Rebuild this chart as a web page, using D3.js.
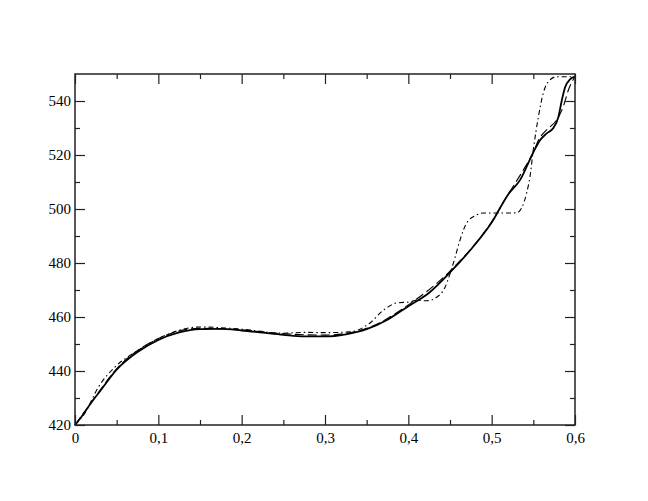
<!DOCTYPE html>
<html><head><meta charset="utf-8">
<script src="https://cdn.jsdelivr.net/npm/d3@7"></script>
<style>body{margin:0;background:#fff}svg{display:block}svg text{font-family:"Liberation Serif","DejaVu Serif",serif}</style>
</head><body>
<svg id="c" width="648" height="501"></svg>
<script>
const xTicks = [0, 0.1, 0.2, 0.3, 0.4, 0.5, 0.6];
const xTickLabels = ["0", "0,1", "0,2", "0,3", "0,4", "0,5", "0,6"];
const yTicks = [420, 440, 460, 480, 500, 520, 540];

const solidX = [0,0.01,0.02,0.03,0.05,0.075,0.1,0.125,0.15,0.175,0.2,0.225,0.25,0.275,0.3,0.325,0.35,0.375,0.4,0.425,0.45,0.475,0.5,0.52,0.534,0.55,0.558,0.566,0.574,0.58,0.584,0.588,0.594,0.6];
const solidY = [420,424,428.5,432.5,440.5,447,451.5,454.3,455.5,455.6,455.0,454.2,453.4,452.8,452.8,453.6,455.5,459,464,469,476.5,485,495,505.5,510.7,521,525.5,528,530,534,540,545,548,549];

const dashX = [0,0.02,0.05,0.1,0.15,0.2,0.25,0.3,0.35,0.4,0.45,0.5,0.52,0.54,0.55,0.557,0.565,0.57,0.578,0.586,0.592,0.598,0.6];
const dashY = [420,428.5,440.8,452,455.8,455.2,453.8,453.3,455.8,464.5,477,495.3,505.5,515.5,521,526,529,530.4,533,538,544,548,549];

const dotX = [0,0.012,0.028,0.048,0.075,0.1,0.15,0.2,0.25,0.275,0.3,0.33,0.354,0.37,0.386,0.402,0.41,0.422,0.434,0.444,0.45,0.456,0.462,0.47,0.482,0.49,0.51,0.53,0.536,0.542,0.546,0.55,0.556,0.562,0.57,0.578,0.6];
const dotY = [420,424.5,434,441.5,447.5,452,456.3,455.5,454,454.3,454.2,454.5,457.8,462.5,465.2,465.6,466.2,466,467.3,471,476,482,488.5,494.8,497.8,498.5,498.5,498.6,500.4,506,512,522,534,543,547.8,549,549];

const L = 75, R = 575, T = 74, B = 425;
const x = d3.scaleLinear().domain([0, 0.6]).range([L, R]);
const y = d3.scaleLinear().domain([420, 550]).range([B, T]);
const svg = d3.select("#c");

const line = d3.line().x(d => x(d[0])).y(d => y(d[1])).curve(d3.curveMonotoneX);
function draw(xs, ys, w, dash) {
  svg.append("path").datum(xs.map((v, i) => [v, ys[i]]))
    .attr("d", line).attr("fill", "none").attr("stroke", "#000")
    .attr("stroke-width", w).attr("stroke-dasharray", dash);
}
draw(dashX, dashY, 1.1, "9,4");
draw(dotX, dotY, 1.1, "5,3,1.5,3");
draw(solidX, solidY, 1.8, null);

const minorX = d3.range(0.05, 0.6, 0.1);
const minorY = d3.range(430, 550, 20);
function styleAxis(sel) {
  sel.select(".domain").remove();
  sel.selectAll("line").attr("stroke", "#222").attr("stroke-width", 1.2);
  sel.selectAll("text").style("font-family", '"Liberation Serif","DejaVu Serif",serif').attr("font-size", 15).attr("fill", "#000");
}
const xb = d3.axisBottom(x).tickValues(xTicks).tickSizeInner(-10).tickSizeOuter(0).tickFormat((d, i) => xTickLabels[i]).tickPadding(7);
const yl = d3.axisLeft(y).tickValues(yTicks).tickSizeInner(-10).tickSizeOuter(0).tickFormat(d3.format("d")).tickPadding(4);
svg.append("g").attr("transform", `translate(0,${B})`).call(xb).call(styleAxis);
svg.append("g").attr("transform", `translate(${L},0)`).call(yl).call(styleAxis);
svg.append("g").attr("transform", `translate(0,${B})`).call(d3.axisBottom(x).tickValues(minorX).tickSizeInner(-5).tickSizeOuter(0).tickFormat("")).call(styleAxis);
svg.append("g").attr("transform", `translate(${L},0)`).call(d3.axisLeft(y).tickValues(minorY).tickSizeInner(-5).tickSizeOuter(0).tickFormat("")).call(styleAxis);
svg.append("g").attr("transform", `translate(0,${T})`).call(d3.axisTop(x).tickValues(xTicks).tickSizeInner(-10).tickSizeOuter(0).tickFormat("")).call(styleAxis);
svg.append("g").attr("transform", `translate(0,${T})`).call(d3.axisTop(x).tickValues(minorX).tickSizeInner(-5).tickSizeOuter(0).tickFormat("")).call(styleAxis);
svg.append("g").attr("transform", `translate(${R},0)`).call(d3.axisRight(y).tickValues(yTicks).tickSizeInner(-10).tickSizeOuter(0).tickFormat("")).call(styleAxis);
svg.append("g").attr("transform", `translate(${R},0)`).call(d3.axisRight(y).tickValues(minorY).tickSizeInner(-5).tickSizeOuter(0).tickFormat("")).call(styleAxis);

svg.append("rect").attr("x", L).attr("y", T).attr("width", R - L).attr("height", B - T)
  .attr("fill", "none").attr("stroke", "#222").attr("stroke-width", 1.5);
</script>
</body></html>
